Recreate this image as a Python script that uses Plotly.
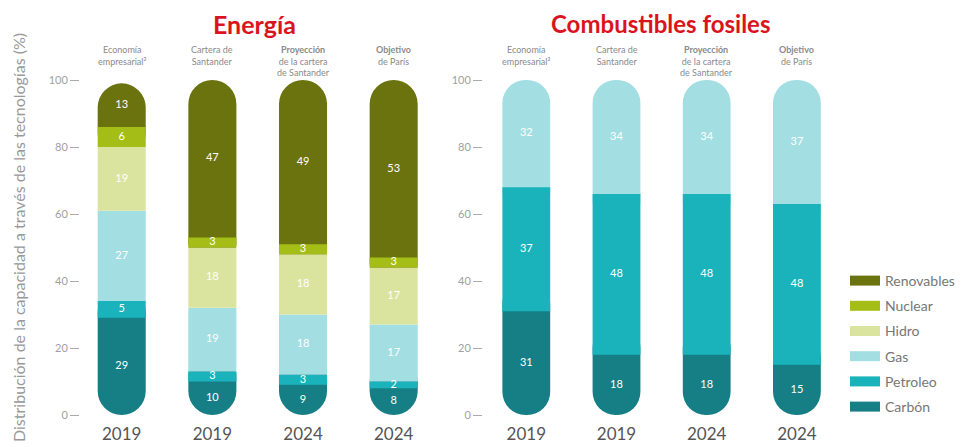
import plotly.graph_objects as go

# ---------------- data ----------------
years = ["2019", "2019", "2024", "2024"]
headers = [
    "Economía<br>empresarial²",
    "Cartera de<br>Santander",
    "<b>Proyección</b><br>de la cartera<br>de Santander",
    "<b>Objetivo</b><br>de París",
]

energia_carbon = [29, 10, 9, 8]
energia_petroleo = [5, 3, 3, 2]
energia_gas = [27, 19, 18, 17]
energia_hidro = [19, 18, 18, 17]
energia_nuclear = [6, 3, 3, 3]
energia_renovables = [13, 47, 49, 53]

fosiles_carbon = [31, 18, 18, 15]
fosiles_petroleo = [37, 48, 48, 48]
fosiles_gas = [32, 34, 34, 37]

legend_order = ["Renovables", "Nuclear", "Hidro", "Gas", "Petroleo", "Carbón"]
colors = {
    "Renovables": "#6b730f",
    "Nuclear": "#a4be17",
    "Hidro": "#dbe49f",
    "Gas": "#a2dee2",
    "Petroleo": "#1ab3bc",
    "Carbón": "#167f86",
}

FONT = "Lato"
BAR_W = 0.53
CAP = 9  # hidden overlap (axis units) so that only the outer end of a capsule shows round
xs = list(range(len(years)))

fig = go.Figure()


def add_stack(segments, xaxis, yaxis):
    n = len(segments)
    starts = []
    cum = [0] * len(xs)
    for name, vals in segments:
        starts.append(list(cum))
        cum = [c + v for c, v in zip(cum, vals)]

    def bar(name, base, y, radius):
        fig.add_trace(go.Bar(
            x=xs, y=y, base=base, width=BAR_W,
            marker=dict(color=colors[name], cornerradius=radius, line=dict(width=0)),
            showlegend=False, hoverinfo="skip", name=name,
            xaxis=xaxis, yaxis=yaxis,
        ))

    # outer ends first (rounded), then the inner segments drawn on top of them
    bname, bvals = segments[0]
    bar(bname, [0] * len(xs), [v + CAP for v in bvals], "50%")
    tname, tvals = segments[-1]
    bar(tname, [s - CAP for s in starts[-1]], [v + CAP for v in tvals], "50%")
    for i in range(1, n - 1):
        name, vals = segments[i]
        bar(name, starts[i], list(vals), 0)

    # value labels in the middle of each segment
    tx, ty, tt = [], [], []
    for i, (name, vals) in enumerate(segments):
        for j, v in enumerate(vals):
            tx.append(xs[j])
            ty.append(starts[i][j] + v / 2)
            tt.append(str(v))
    fig.add_trace(go.Scatter(
        x=tx, y=ty, text=tt, mode="text", textposition="middle center",
        textfont=dict(color="white", size=11, family=FONT),
        showlegend=False, hoverinfo="skip", xaxis=xaxis, yaxis=yaxis,
    ))


add_stack([
    ("Carbón", energia_carbon),
    ("Petroleo", energia_petroleo),
    ("Gas", energia_gas),
    ("Hidro", energia_hidro),
    ("Nuclear", energia_nuclear),
    ("Renovables", energia_renovables),
], "x", "y")

add_stack([
    ("Carbón", fosiles_carbon),
    ("Petroleo", fosiles_petroleo),
    ("Gas", fosiles_gas),
], "x2", "y2")

# legend entries (pill-like swatches)
for name in legend_order:
    fig.add_trace(go.Scatter(
        x=[None], y=[None], mode="lines", name=name,
        line=dict(color=colors[name], width=16),
        legendgroup=name, showlegend=True, xaxis="x", yaxis="y",
    ))

# the page body adds an 8px offset; lay out in page pixels and compensate
OFF = 8
W, H = 969 - OFF, 447 - OFF


def px(p):
    return (p - OFF) / W


def py(p):
    return 1 - (p - OFF) / H


left_dom = [px(80), px(439)]
right_dom = [px(483), px(842)]
y_dom = [py(415), py(80)]

yax = dict(
    range=[0, 100], tickvals=[0, 20, 40, 60, 80, 100],
    showgrid=False, zeroline=False, showline=False,
    ticks="outside", ticklen=9, tickwidth=1, tickcolor="#aaaaaa",
    tickfont=dict(size=11, color="#a0a0a0", family=FONT),
    domain=y_dom, fixedrange=True, automargin=False,
)
xax = dict(
    tickvals=xs, ticktext=years, showgrid=False, zeroline=False,
    showline=False, ticks="", ticklabelstandoff=7, automargin=False,
    tickfont=dict(size=17, color="#555555", family=FONT),
)

fig.update_layout(
    width=W, height=H,
    margin=dict(l=0, r=0, t=0, b=0, autoexpand=False),
    paper_bgcolor="white", plot_bgcolor="white",
    barmode="overlay",
    font=dict(family=FONT),
    xaxis=dict(xax, domain=left_dom, range=[-0.46, 3.5]),
    xaxis2=dict(xax, domain=right_dom, range=[-0.48, 3.5], anchor="y2"),
    yaxis=dict(yax, anchor="x"),
    yaxis2=dict(yax, anchor="x2"),
    legend=dict(
        x=px(845), y=py(265), xanchor="left", yanchor="top",
        traceorder="grouped", tracegroupgap=4,
        font=dict(size=14, color="#777777", family=FONT),
        bgcolor="rgba(0,0,0,0)",
    ),
)

annotations = [
    dict(text="<b>Energía</b>", x=px(254), y=py(24), xref="paper", yref="paper",
         xanchor="center", yanchor="middle",
         showarrow=False, font=dict(size=25, color="#d9141c", family=FONT)),
    dict(text="<b>Combustibles fosiles</b>", x=px(660), y=py(24), xref="paper", yref="paper",
         xanchor="center", yanchor="middle",
         showarrow=False, font=dict(size=24, color="#d9141c", family=FONT)),
    dict(text="Distribución de la capacidad a través de las tecnologías (%)",
         x=px(18), y=py(238), xref="paper", yref="paper", textangle=-90,
         xanchor="center", yanchor="middle",
         showarrow=False, font=dict(size=16, color="#999999", family=FONT)),
]
for xr in ["x", "x2"]:
    for i, h in enumerate(headers):
        annotations.append(dict(
            text=h, x=xs[i], y=py(42), xref=xr, yref="paper",
            xanchor="center", yanchor="top", showarrow=False,
            font=dict(size=9, color="#8a8a8a", family=FONT),
        ))
fig.update_layout(annotations=annotations)

fig.write_html("out.html")
